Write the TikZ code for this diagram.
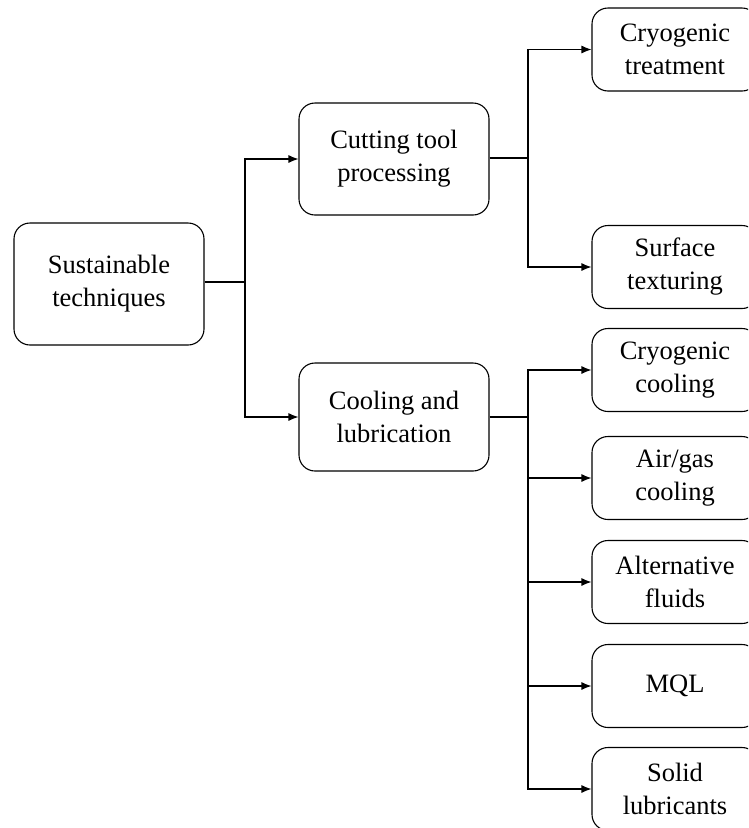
\documentclass[tikz,border=0pt]{standalone}
\usepackage{fontspec}
\setmainfont{Liberation Serif}
\usetikzlibrary{arrows.meta}
\begin{document}
\begin{tikzpicture}[x=1pt,y=-1pt,
  box/.style={draw, line width=1.1pt, rounded corners=16pt, align=center, inner sep=0pt,
    font=\fontsize{26.5}{33}\selectfont},
  conn/.style={line width=1.1pt},
  arr/.style={conn,-{Latex[length=10pt,width=8pt]}}]
\useasboundingbox (0,0) rectangle (748,828);
\clip (0,0) rectangle (748,828);
\node[box, minimum width=190pt, minimum height=122pt] (st) at (109,284) {Sustainable\\techniques};
\node[box, minimum width=190pt, minimum height=112pt] (ct) at (394,159) {Cutting tool\\processing};
\node[box, minimum width=190pt, minimum height=108pt] (cl) at (394,417) {Cooling and\\lubrication};
\node[box, minimum width=166pt, minimum height=83pt] (cr) at (675,49.5) {Cryogenic\\treatment};
\node[box, minimum width=166pt, minimum height=83pt] (sf) at (675,267) {Surface\\texturing};
\node[box, minimum width=166pt, minimum height=83pt] (cc) at (675,370) {Cryogenic\\cooling};
\node[box, minimum width=166pt, minimum height=83pt] (ag) at (675,478) {Air/gas\\cooling};
\node[box, minimum width=166pt, minimum height=83pt] (af) at (675,582) {Alternative\\fluids};
\node[box, minimum width=166pt, minimum height=83pt] (mq) at (675,686) {MQL};
\node[box, minimum width=166pt, minimum height=83pt] (sl) at (675,789) {Solid\\lubricants};
\coordinate (j1) at (245,282);
\coordinate (j2) at (528,158);
\coordinate (j3) at (528,417);
\draw[conn] (st.east |- j1) -- (j1);
\draw[arr] (j1) |- (ct.west);
\draw[arr] (j1) |- (cl.west);
\draw[conn] (ct.east |- j2) -- (j2);
\draw[arr] (j2) |- (cr.west);
\draw[arr] (j2) |- (sf.west);
\draw[conn] (cl.east |- j3) -- (j3);
\draw[arr] (j3) |- (cc.west);
\draw[arr] (j3) |- (ag.west);
\draw[arr] (j3) |- (af.west);
\draw[arr] (j3) |- (mq.west);
\draw[arr] (j3) |- (sl.west);
\end{tikzpicture}
\end{document}
